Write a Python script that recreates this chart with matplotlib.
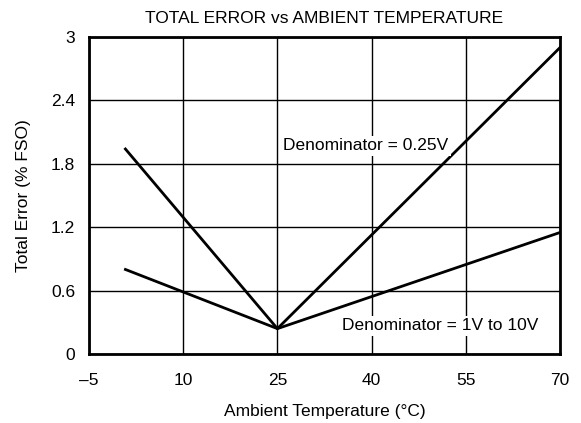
import matplotlib
matplotlib.use("Agg")
import matplotlib.pyplot as plt

plt.rcParams["font.family"] = ["Liberation Sans", "DejaVu Sans"]

temps = [0.8, 25, 70]
error_025v = [1.94, 0.24, 2.9]
error_1v_10v = [0.80, 0.24, 1.15]

x_ticks = [-5, 10, 25, 40, 55, 70]
x_labels = ["\u20135", "10", "25", "40", "55", "70"]
y_ticks = [0, 0.6, 1.2, 1.8, 2.4, 3]
y_labels = ["0", "0.6", "1.2", "1.8", "2.4", "3"]

fs = 12.5

fig = plt.figure(figsize=(5.81, 4.23), dpi=100)
ax = fig.add_axes([89 / 581, 1 - 354 / 423, 471 / 581, 317 / 423])

ax.plot(temps, error_025v, color="black", lw=2, zorder=3)
ax.plot(temps, error_1v_10v, color="black", lw=2, zorder=3)

ax.set_xlim(-5, 70)
ax.set_ylim(0, 3)
ax.set_xticks(x_ticks)
ax.set_xticklabels(x_labels)
ax.set_yticks(y_ticks)
ax.set_yticklabels(y_labels)
ax.tick_params(axis="x", length=0, labelsize=fs, pad=14)
ax.tick_params(axis="y", length=0, labelsize=fs, pad=10)
ax.grid(True, color="black", lw=1)
for spine in ax.spines.values():
    spine.set_linewidth(2)

bbox = dict(facecolor="white", edgecolor="none", pad=2)
ax.text(39.1, 1.97, "Denominator = 0.25V", ha="center", va="center", fontsize=fs, bbox=bbox, zorder=4)
ax.text(51.0, 0.265, "Denominator = 1V to 10V", ha="center", va="center", fontsize=fs, bbox=bbox, zorder=4)

ax.set_title("TOTAL ERROR vs AMBIENT TEMPERATURE", fontsize=fs, pad=10)
ax.set_xlabel("Ambient Temperature (\u00b0C)", fontsize=fs, labelpad=11)
ax.set_ylabel("Total Error (% FSO)", fontsize=fs, labelpad=14)

fig.savefig("out.png", dpi=100)
